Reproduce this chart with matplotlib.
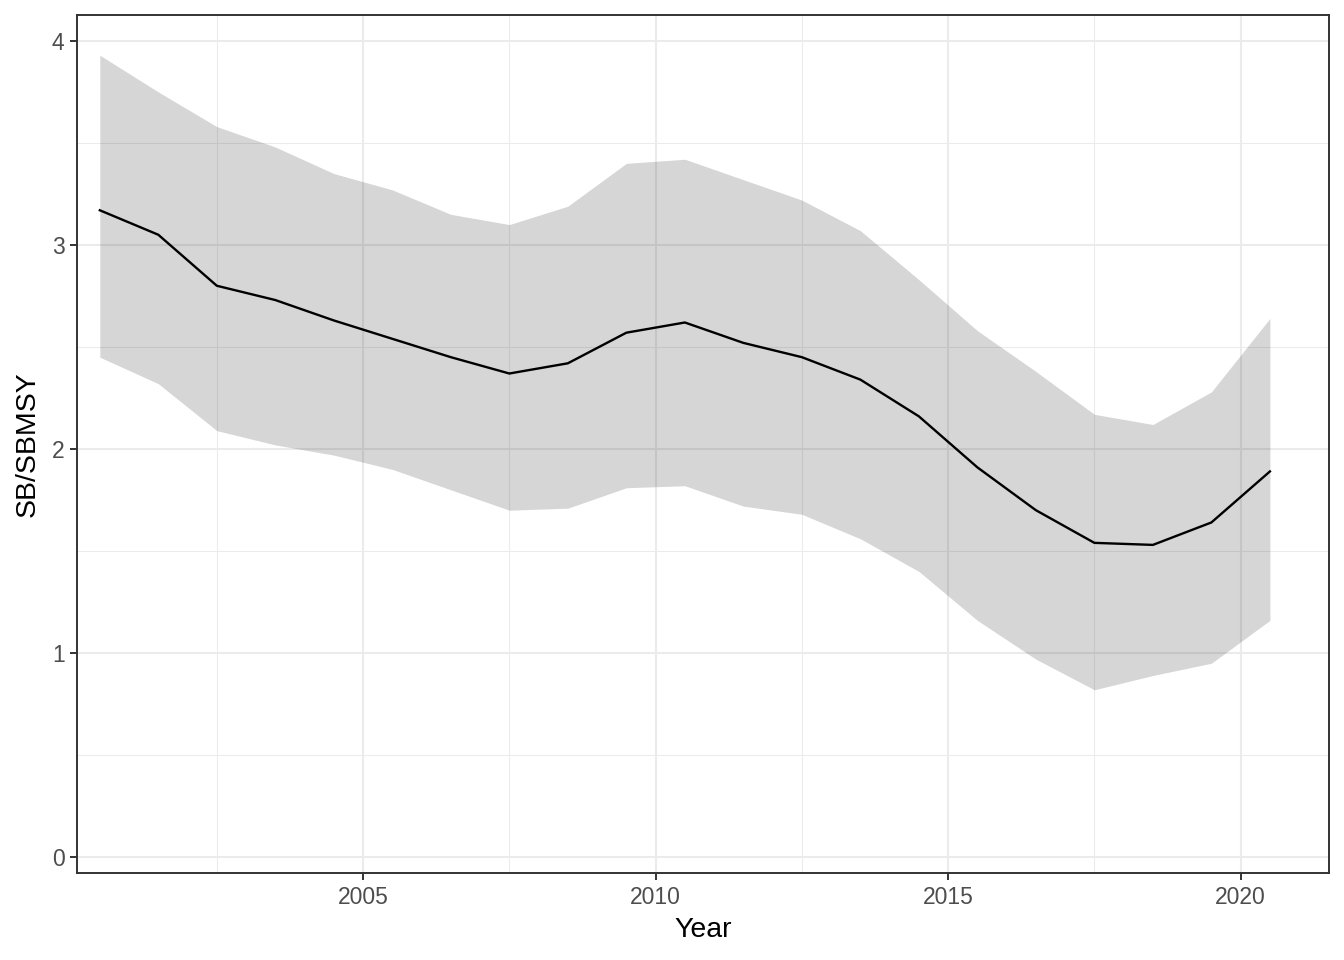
import matplotlib
matplotlib.use("Agg")
import matplotlib.pyplot as plt
from matplotlib.ticker import MultipleLocator

plt.rcParams['font.family'] = ['Liberation Sans', 'DejaVu Sans']

# SB/SBMSY estimates (median and interval)
years = [2000.5, 2001.5, 2002.5, 2003.5, 2004.5, 2005.5, 2006.5, 2007.5, 2008.5, 2009.5,
         2010.5, 2011.5, 2012.5, 2013.5, 2014.5, 2015.5, 2016.5, 2017.5, 2018.5, 2019.5, 2020.5]
median = [3.17, 3.05, 2.80, 2.73, 2.63, 2.54, 2.45, 2.37, 2.42, 2.57,
          2.62, 2.52, 2.45, 2.34, 2.16, 1.91, 1.70, 1.54, 1.53, 1.64, 1.89]
upper = [3.93, 3.75, 3.58, 3.48, 3.35, 3.27, 3.15, 3.10, 3.19, 3.40,
         3.42, 3.32, 3.22, 3.07, 2.83, 2.58, 2.38, 2.17, 2.12, 2.28, 2.64]
lower = [2.45, 2.32, 2.09, 2.02, 1.97, 1.90, 1.80, 1.70, 1.71, 1.81,
         1.82, 1.72, 1.68, 1.56, 1.40, 1.16, 0.97, 0.82, 0.89, 0.95, 1.16]

fig = plt.figure(figsize=(13.44, 9.6), dpi=100)
ax = fig.add_axes([77/1344, 1 - 873/960, (1329 - 77)/1344, (873 - 15)/960])

ax.fill_between(years, lower, upper, color='black', alpha=0.16, linewidth=0, zorder=2)
ax.plot(years, median, color='black', lw=1.7, zorder=3)

ax.set_xlim(2000.11, 2021.51)
ax.set_ylim(-0.078, 4.127)

# theme_bw-like grid
ax.xaxis.set_major_locator(MultipleLocator(5))
ax.xaxis.set_minor_locator(MultipleLocator(2.5))
ax.yaxis.set_major_locator(MultipleLocator(1))
ax.yaxis.set_minor_locator(MultipleLocator(0.5))
ax.grid(which='major', color='#EBEBEB', lw=1.45, zorder=0)
ax.grid(which='minor', color='#EBEBEB', lw=0.75, zorder=0)
ax.set_axisbelow(True)

for s in ax.spines.values():
    s.set_color('#333333')
    s.set_linewidth(1.4)

ax.tick_params(which='major', length=5, width=1.4, color='#333333',
               labelsize=16.5, labelcolor='#4D4D4D', pad=4)
ax.tick_params(which='minor', length=0)

ax.set_xlabel('Year', fontsize=20.5, color='black', labelpad=6)
ax.set_ylabel('SB/SBMSY', fontsize=20.5, color='black', labelpad=8)

fig.savefig('out.png', dpi=100)
